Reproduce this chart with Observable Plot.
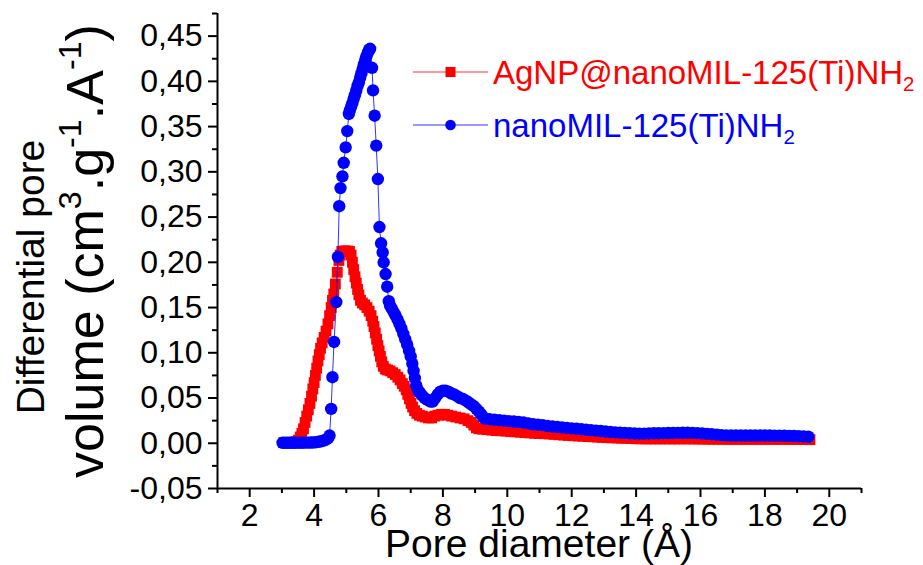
<!DOCTYPE html>
<html><head><meta charset="utf-8">
<script src="https://cdn.jsdelivr.net/npm/d3@7"></script>
<script src="https://cdn.jsdelivr.net/npm/@observablehq/plot@0.6"></script>
<style>body{margin:0;background:#fff;} #chart{width:923px;height:565px;}</style>
</head><body><div id="chart"></div>
<script>
// ---- data ----
const agX = [3.06,3.14,3.22,3.30,3.38,3.45,3.51,3.57,3.62,3.67,3.72,3.77,3.82,3.87,3.92,3.96,4.00,4.04,4.08,4.12,4.16,4.20,4.25,4.31,4.37,4.43,4.48,4.53,4.57,4.61,4.66,4.72,4.77,4.81,4.86,4.92,4.98,5.04,5.10,5.15,5.19,5.23,5.27,5.31,5.35,5.39,5.44,5.50,5.57,5.64,5.71,5.77,5.82,5.86,5.90,5.94,5.98,6.02,6.06,6.10,6.15,6.21,6.28,6.36,6.44,6.52,6.60,6.67,6.74,6.80,6.86,6.91,6.96,7.01,7.06,7.12,7.19,7.27,7.36,7.45,7.55,7.65,7.75,7.85,7.95,8.05,8.15,8.27,8.40,8.53,8.66,8.78,8.88,8.96,9.04,9.12,9.24,9.38,9.52,9.66,9.80,9.95,10.10,10.25,10.40,10.55,10.70,10.85,11.00,11.15,11.30,11.45,11.60,11.75,11.90,12.05,12.20,12.35,12.50,12.65,12.80,12.95,13.10,13.25,13.40,13.55,13.70,13.85,14.00,14.15,14.30,14.45,14.60,14.75,14.90,15.05,15.20,15.35,15.50,15.65,15.80,15.95,16.10,16.25,16.40,16.55,16.70,16.85,17.00,17.15,17.30,17.45,17.60,17.75,17.90,18.05,18.20,18.35,18.50,18.65,18.80,18.95,19.10,19.25,19.40];
const agY = [0.0008,0.0008,0.0008,0.0010,0.0012,0.0018,0.0035,0.007,0.011,0.016,0.023,0.030,0.037,0.044,0.052,0.060,0.067,0.075,0.083,0.091,0.098,0.105,0.111,0.117,0.124,0.132,0.141,0.150,0.158,0.165,0.176,0.189,0.202,0.208,0.212,0.2125,0.2125,0.2125,0.212,0.208,0.200,0.192,0.184,0.177,0.170,0.164,0.158,0.155,0.153,0.150,0.146,0.141,0.135,0.129,0.122,0.115,0.108,0.102,0.096,0.090,0.085,0.082,0.081,0.080,0.078,0.076,0.073,0.070,0.066,0.063,0.059,0.054,0.049,0.044,0.040,0.036,0.033,0.031,0.030,0.029,0.028,0.028,0.030,0.031,0.032,0.032,0.031,0.030,0.029,0.028,0.027,0.025,0.023,0.020,0.017,0.016,0.0155,0.015,0.0145,0.014,0.0138,0.0134,0.013,0.0126,0.0122,0.0118,0.0114,0.011,0.0107,0.0105,0.0103,0.0098,0.0094,0.009,0.0086,0.0083,0.008,0.0077,0.0074,0.0071,0.0068,0.0065,0.0062,0.006,0.0058,0.0056,0.0054,0.0052,0.005,0.0049,0.0048,0.0048,0.0048,0.0048,0.0048,0.0048,0.0048,0.0048,0.0048,0.0048,0.0047,0.0047,0.0046,0.0045,0.0045,0.0044,0.0044,0.0043,0.0043,0.0043,0.0043,0.0043,0.0043,0.0043,0.0043,0.0043,0.0043,0.0043,0.0043,0.0043,0.0042,0.0042,0.0042,0.0041,0.004,0.004];

const nanoX = [3.02,3.10,3.18,3.26,3.34,3.42,3.50,3.58,3.66,3.74,3.82,3.90,3.98,4.06,4.14,4.22,4.30,4.37,4.43,4.48,4.53,4.57,4.62,4.69,4.74,4.78,4.82,4.88,4.92,4.98,5.03,5.08,5.11,5.15,5.19,5.23,5.27,5.31,5.35,5.39,5.43,5.47,5.51,5.55,5.59,5.63,5.67,5.71,5.74,5.80,5.83,5.88,5.93,5.98,6.03,6.08,6.13,6.16,6.22,6.27,6.32,6.36,6.41,6.47,6.53,6.59,6.65,6.71,6.77,6.83,6.89,6.95,7.00,7.05,7.09,7.13,7.17,7.22,7.28,7.35,7.43,7.52,7.61,7.68,7.76,7.84,7.92,8.00,8.08,8.17,8.26,8.35,8.44,8.53,8.62,8.71,8.80,8.88,8.96,9.04,9.12,9.19,9.25,9.32,9.45,9.60,9.75,9.90,10.05,10.20,10.35,10.50,10.65,10.80,10.95,11.10,11.25,11.40,11.55,11.70,11.85,12.00,12.15,12.30,12.45,12.60,12.75,12.90,13.05,13.20,13.35,13.50,13.65,13.80,13.95,14.10,14.25,14.40,14.55,14.70,14.85,15.00,15.15,15.30,15.45,15.60,15.75,15.90,16.05,16.20,16.35,16.50,16.65,16.80,16.95,17.10,17.25,17.40,17.55,17.70,17.85,18.00,18.15,18.30,18.45,18.60,18.75,18.90,19.05,19.20,19.35];
const nanoY = [0.0005,0.0005,0.0005,0.0005,0.0005,0.0005,0.0006,0.0006,0.0006,0.0007,0.0007,0.0008,0.0009,0.0012,0.0016,0.0022,0.0030,0.0040,0.0055,0.0085,0.038,0.073,0.112,0.156,0.206,0.262,0.282,0.295,0.310,0.327,0.345,0.364,0.368,0.372,0.376,0.381,0.385,0.390,0.395,0.399,0.404,0.409,0.414,0.419,0.424,0.428,0.432,0.435,0.436,0.415,0.390,0.362,0.329,0.292,0.239,0.221,0.211,0.200,0.187,0.173,0.157,0.152,0.149,0.145,0.141,0.137,0.132,0.127,0.121,0.115,0.109,0.102,0.096,0.088,0.080,0.072,0.064,0.059,0.056,0.053,0.050,0.048,0.046,0.046,0.050,0.054,0.057,0.058,0.058,0.057,0.055,0.054,0.052,0.050,0.049,0.047,0.045,0.043,0.041,0.038,0.035,0.032,0.029,0.027,0.0265,0.026,0.0255,0.025,0.0245,0.024,0.0235,0.023,0.022,0.021,0.0205,0.020,0.019,0.0185,0.018,0.0175,0.017,0.0165,0.016,0.0155,0.015,0.0145,0.014,0.0135,0.013,0.0125,0.012,0.0118,0.0115,0.011,0.0108,0.0106,0.0107,0.0108,0.011,0.011,0.0112,0.0113,0.0114,0.0115,0.0116,0.0116,0.0115,0.0112,0.0108,0.0104,0.010,0.0095,0.009,0.0087,0.0085,0.0085,0.0085,0.0085,0.0085,0.0085,0.0085,0.0085,0.0085,0.0084,0.0084,0.0083,0.0082,0.008,0.0078,0.0075,0.0072];

const xMajorTicks = [2,4,6,8,10,12,14,16,18,20];
const xMinorTicks = [1,3,5,7,9,11,13,15,17,19,21];
const yMajorTicks = [-0.05,0,0.05,0.10,0.15,0.20,0.25,0.30,0.35,0.40,0.45];
const yMinorTicks = [-0.025,0.025,0.075,0.125,0.175,0.225,0.275,0.325,0.375,0.425,0.475];
const seriesNames = ["AgNP@nanoMIL-125(Ti)NH", "nanoMIL-125(Ti)NH"];
const seriesColors = ["#ff0000", "#0000ff"];
const xTitle = "Pore diameter (Å)";
const yTitle1 = "Differential pore";

// ---- build tables ----
const ag = agX.map((x, i) => ({x, y: agY[i]}));
const nano = nanoX.map((x, i) => ({x, y: nanoY[i]}));
const fmtY = d => d3.format(".2f")(d).replace("−", "-").replace(".", ",");
const FONT = "'Liberation Sans', Arial, sans-serif";

const plot = Plot.plot({
  width: 923, height: 565,
  marginLeft: 217, marginRight: 62, marginTop: 13, marginBottom: 77,
  style: {fontFamily: FONT, background: "#fff", color: "#000"},
  x: {domain: [1, 21]},
  y: {domain: [-0.05, 0.475]},
  marks: [
    // minor ticks (rules collapsed onto the axis line, extended outward)
    Plot.ruleX(xMinorTicks, {y1: -0.05, y2: -0.05, insetBottom: -5, stroke: "#000", strokeWidth: 2}),
    Plot.ruleY(yMinorTicks, {x1: 1, x2: 1, insetLeft: -5, stroke: "#000", strokeWidth: 2}),
    Plot.axisX({ticks: xMajorTicks, tickSize: 9, tickPadding: 6, label: null, fontSize: 32, strokeWidth: 2, tickFormat: d => String(d)}),
    Plot.axisY({ticks: yMajorTicks, tickSize: 9, tickPadding: 6, label: null, fontSize: 32, strokeWidth: 2, tickFormat: fmtY}),
    Plot.ruleX([1], {stroke: "#000", strokeWidth: 2}),
    Plot.ruleY([-0.05], {stroke: "#000", strokeWidth: 2}),
    Plot.line(ag, {x: "x", y: "y", stroke: seriesColors[0], strokeWidth: 1, strokeOpacity: 0.8}),
    Plot.dot(ag, {x: "x", y: "y", symbol: "square", r: 6.1, fill: seriesColors[0]}),
    Plot.line(nano, {x: "x", y: "y", stroke: seriesColors[1], strokeWidth: 1, strokeOpacity: 0.8}),
    Plot.dot(nano, {x: "x", y: "y", r: 6.2, fill: seriesColors[1]})
  ]
});
document.getElementById("chart").appendChild(plot);

// ---- titles and legend as real SVG text ----
const svg = d3.select(plot);
function rich(el, parts, size) {
  let shift = 0;
  parts.forEach(([t, kind]) => {
    const sp = el.append("tspan").text(t);
    let target = 0, fs = size;
    if (kind === "sup") { target = -0.42 * size; fs = 0.62 * size; }
    if (kind === "sub") { target = 0.22 * size; fs = 0.62 * size; }
    sp.attr("font-size", fs).attr("dy", target - shift);
    shift = target;
  });
}
// x title
svg.append("text").attr("x", 539).attr("y", 557).attr("text-anchor", "middle")
  .attr("font-family", FONT).attr("font-size", 39).attr("fill", "#000").text(xTitle);
// y title (two lines)
svg.append("text").attr("transform", "translate(44,277) rotate(-90)").attr("text-anchor", "middle")
  .attr("font-family", FONT).attr("font-size", 39).attr("fill", "#000").text(yTitle1);
const yt2 = svg.append("text").attr("transform", "translate(103,251) rotate(-90)").attr("text-anchor", "middle")
  .attr("font-family", FONT).attr("font-size", 52).attr("fill", "#000");
rich(yt2, [["volume (cm", null], ["3", "sup"], [".g", null], ["-1", "sup"], [".A", null], ["-1", "sup"], [")", null]], 52);

// legend
const legendY = [72, 125];
const lg = svg.append("g");
seriesNames.forEach((name, i) => {
  const y = legendY[i], c = seriesColors[i];
  lg.append("line").attr("x1", 413).attr("x2", 488).attr("y1", y).attr("y2", y).attr("stroke", c).attr("stroke-opacity", 0.8).attr("stroke-width", 1);
  if (i === 0) lg.append("rect").attr("x", 445.5).attr("y", y - 5).attr("width", 10).attr("height", 10).attr("fill", c);
  else lg.append("circle").attr("cx", 450.5).attr("cy", y).attr("r", 5.3).attr("fill", c);
  const t = lg.append("text").attr("x", 493).attr("y", y + 12).attr("text-anchor", "start")
    .attr("font-family", FONT).attr("font-size", 33).attr("fill", c);
  rich(t, [[name, null], ["2", "sub"]], 33);
});
</script>
</body></html>
